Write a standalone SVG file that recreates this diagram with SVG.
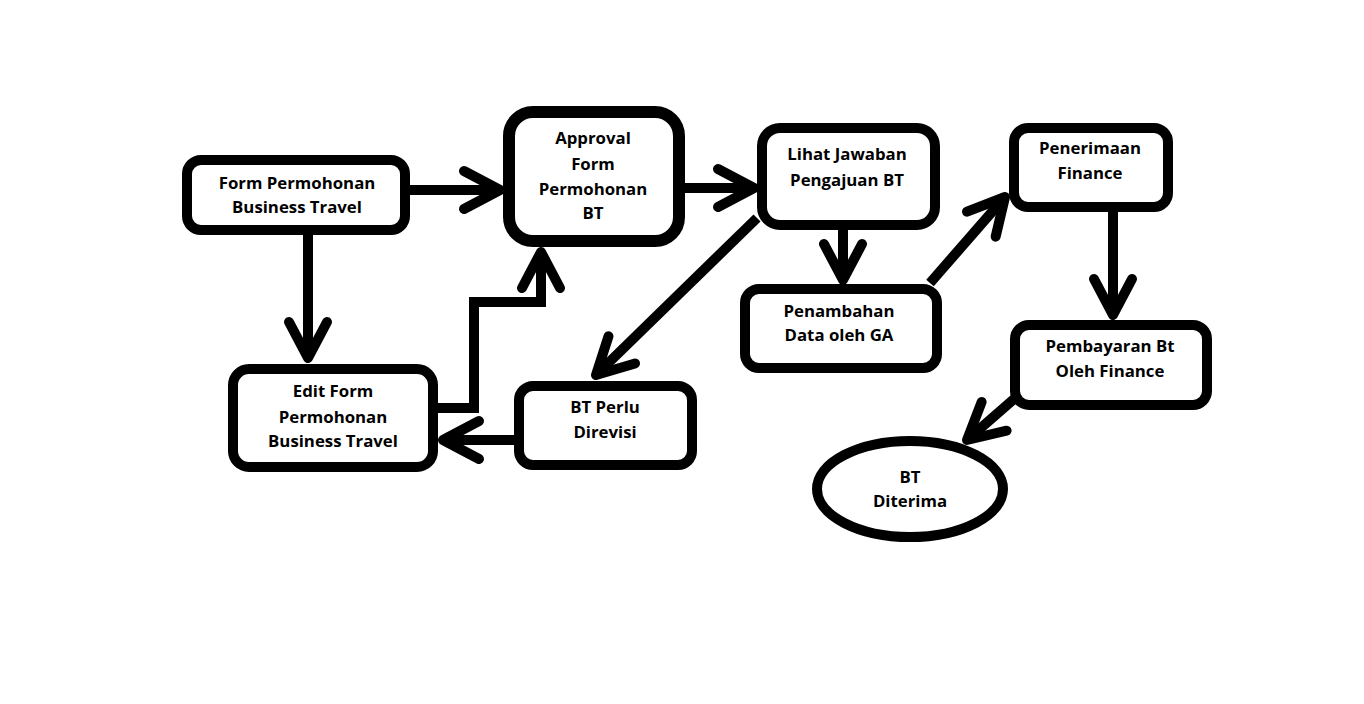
<svg xmlns="http://www.w3.org/2000/svg" width="1364" height="704" viewBox="0 0 1364 704">
<style>
.n{fill:#fff;stroke:#000;stroke-width:10}
.t{font-family:"Open Sans","Noto Sans","Liberation Sans",sans-serif;font-weight:bold;font-size:16.8px;fill:#000;text-anchor:middle}
.c{fill:none;stroke:#000;stroke-width:10;stroke-linejoin:miter;marker-end:url(#arr)}
</style>
<defs>
<marker id="arr" markerUnits="userSpaceOnUse" markerWidth="60" markerHeight="60" viewBox="-50 -30 60 60" refX="0" refY="0" orient="auto" overflow="visible">
<path d="M-36,-19 L0,0 L-36,19" fill="none" stroke="#000" stroke-width="10" stroke-linecap="round" stroke-linejoin="round"/>
</marker>
</defs>
<rect width="1364" height="704" fill="#fff"/>
<g id="connectors">
<path class="c" d="M410,190 H500"/>
<path class="c" d="M684,188 H754"/>
<path class="c" d="M308,235 V358"/>
<path class="c" d="M438,408 H474 V302 H541 V252"/>
<path class="c" d="M757,218 L596,375"/>
<path class="c" d="M514,440 H443"/>
<path class="c" d="M843,230 V280"/>
<path class="c" d="M930,283 L1005,197"/>
<path class="c" d="M1113,212 V315"/>
<path class="c" d="M1014,399 L967,440"/>
</g>
<g id="n1"><rect class="n" x="187" y="160" width="218" height="70" rx="14"/><text class="t" x="297" y="189">Form Permohonan</text><text class="t" x="297" y="213">Business Travel</text></g>
<g id="n2"><rect class="n" x="509" y="112" width="170" height="129" rx="24" style="stroke-width:12"/><text class="t" x="593" y="144">Approval</text><text class="t" x="593" y="170">Form</text><text class="t" x="593" y="195">Permohonan</text><text class="t" x="593" y="219">BT</text></g>
<g id="n3"><rect class="n" x="762" y="128" width="173" height="97" rx="18"/><text class="t" x="847" y="160">Lihat Jawaban</text><text class="t" x="847" y="186">Pengajuan BT</text></g>
<g id="n4"><rect class="n" x="745" y="289" width="192" height="79" rx="14"/><text class="t" x="839" y="317">Penambahan</text><text class="t" x="839" y="341">Data oleh GA</text></g>
<g id="n5"><rect class="n" x="1014" y="128" width="154" height="79" rx="14"/><text class="t" x="1090" y="154">Penerimaan</text><text class="t" x="1090" y="179">Finance</text></g>
<g id="n6"><rect class="n" x="1015" y="325" width="192" height="80" rx="14"/><text class="t" x="1110" y="352">Pembayaran Bt</text><text class="t" x="1110" y="377">Oleh Finance</text></g>
<g id="n7"><ellipse class="n" cx="910" cy="489" rx="93" ry="48"/><text class="t" x="910" y="483">BT</text><text class="t" x="910" y="507">Diterima</text></g>
<g id="n8"><rect class="n" x="233" y="369" width="200" height="98" rx="16"/><text class="t" x="333" y="397">Edit Form</text><text class="t" x="333" y="423">Permohonan</text><text class="t" x="333" y="447">Business Travel</text></g>
<g id="n9"><rect class="n" x="519" y="386" width="173" height="79" rx="14"/><text class="t" x="605" y="413">BT Perlu</text><text class="t" x="605" y="438">Direvisi</text></g>
</svg>
